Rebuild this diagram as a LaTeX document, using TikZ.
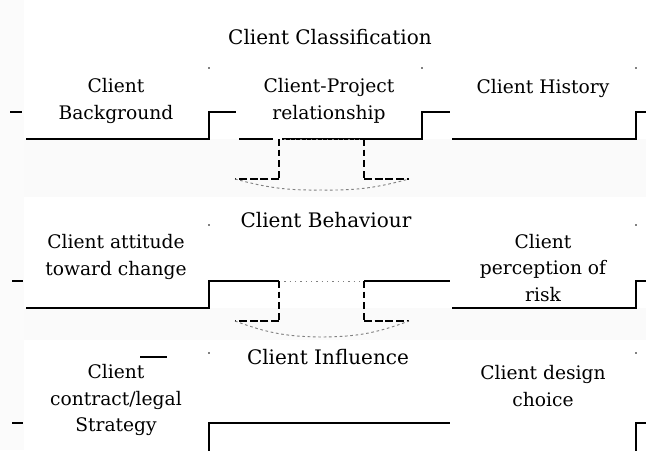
\documentclass[tikz,border=0pt]{standalone}
\usepackage{fontspec}
\setmainfont{DejaVu Serif}
\begin{document}
\begin{tikzpicture}[x=0.75pt,y=-0.75pt,
  rule/.style={line width=1.2pt},
  shaft/.style={line width=1.8pt,dash pattern=on 5pt off 3pt},
  flange/.style={line width=1.6pt,dash pattern=on 6pt off 2pt},
  lip/.style={line width=0.7pt,gray,dash pattern=on 2pt off 2pt},
  mouth/.style={line width=0.7pt,gray,dash pattern=on 1pt off 3pt},
  label/.style={align=center,font=\fontsize{14}{20}\selectfont,inner sep=0pt},
  heading/.style={font=\fontsize{15}{18}\selectfont,inner sep=0pt},
  speck/.style={fill=black,circle,inner sep=0pt,minimum size=1.3pt}]

% page and faint bands between the groups
\useasboundingbox (0,0) rectangle (646,450);
\fill[white] (0,0) rectangle (646,450);
\fill[gray!4] (0,139) rectangle (646,197);
\fill[gray!4] (0,308) rectangle (646,340);
\fill[gray!3] (0,0) rectangle (24,450);

% ---------- group 1 ----------
\node[heading] (g1) at (330,37) {Client Classification};
\node[label] (bg) at (116,101) {Client\\Background};
\node[label] (cp) at (329,101) {Client-Project\\relationship};
\node[label] (hi) at (543,88) {Client History};

\draw[rule] (10,112) -- (22,112);
\draw[rule] (26,139) -- (209,139) -- (209,112) -- (236,112);
\draw[rule] (239,139) -- (273,139);
\draw[rule] (282,139) -- (422,139) -- (422,112) -- (450,112);
\draw[rule] (452,139) -- (636,139) -- (636,112) -- (646,112);

% block arrow from group 1 to group 2
\coordinate (a1tl) at (279,139);
\coordinate (a1tr) at (364,139);
\coordinate (a1fl) at (279,179);
\coordinate (a1fr) at (364,179);
\coordinate (a1el) at (235,179);
\coordinate (a1er) at (409,179);
\coordinate (a1tip) at (322,190);
\draw[mouth] (a1tl) -- (a1tr);
\draw[shaft] (a1tl) -- (a1fl);
\draw[shaft] (a1tr) -- (a1fr);
\draw[flange] (a1fl) -- (a1el);
\draw[flange] (a1fr) -- (a1er);
\draw[lip] (a1el) to[bend right=8] (a1tip) to[bend right=8] (a1er);

% ---------- group 2 ----------
\node[heading] (g2) at (326,220) {Client Behaviour};
\node[label] (at) at (116,257) {Client attitude\\toward change};
\node[label] (pr) at (543,268) {Client\\perception of\\risk};

\draw[rule] (12,281) -- (23,281);
\draw[rule] (26,308) -- (209,308) -- (209,281) -- (279,281);
\draw[rule] (364,281) -- (450,281);
\draw[rule] (452,308) -- (636,308) -- (636,281) -- (646,281);

% block arrow from group 2 to group 3
\coordinate (a2tl) at (279,281);
\coordinate (a2tr) at (364,281);
\coordinate (a2fl) at (279,321);
\coordinate (a2fr) at (364,321);
\coordinate (a2el) at (235,321);
\coordinate (a2er) at (409,321);
\coordinate (a2tip) at (322,337);
\draw[mouth] (a2tl) -- (a2tr);
\draw[shaft] (a2tl) -- (a2fl);
\draw[shaft] (a2tr) -- (a2fr);
\draw[flange] (a2fl) -- (a2el);
\draw[flange] (a2fr) -- (a2er);
\draw[lip] (a2el) to[bend right=10] (a2tip) to[bend right=10] (a2er);

% ---------- group 3 ----------
\node[heading] (g3) at (328,357) {Client Influence};
\node[label] (st) at (116,400) {Client\\contract/legal\\Strategy};
\node[label] (de) at (543,386) {Client design\\choice};

\draw[rule] (140,357) -- (167,357);
\draw[rule] (12,423) -- (23,423);
\draw[rule] (209,452) -- (209,423) -- (450,423);
\draw[rule] (636,452) -- (636,423) -- (646,423);

% corner specks
\foreach \p in {(209,68),(422,68),(636,68),(209,225),(636,225),(209,353),(636,353)}
  \node[speck] at \p {};
\end{tikzpicture}
\end{document}
